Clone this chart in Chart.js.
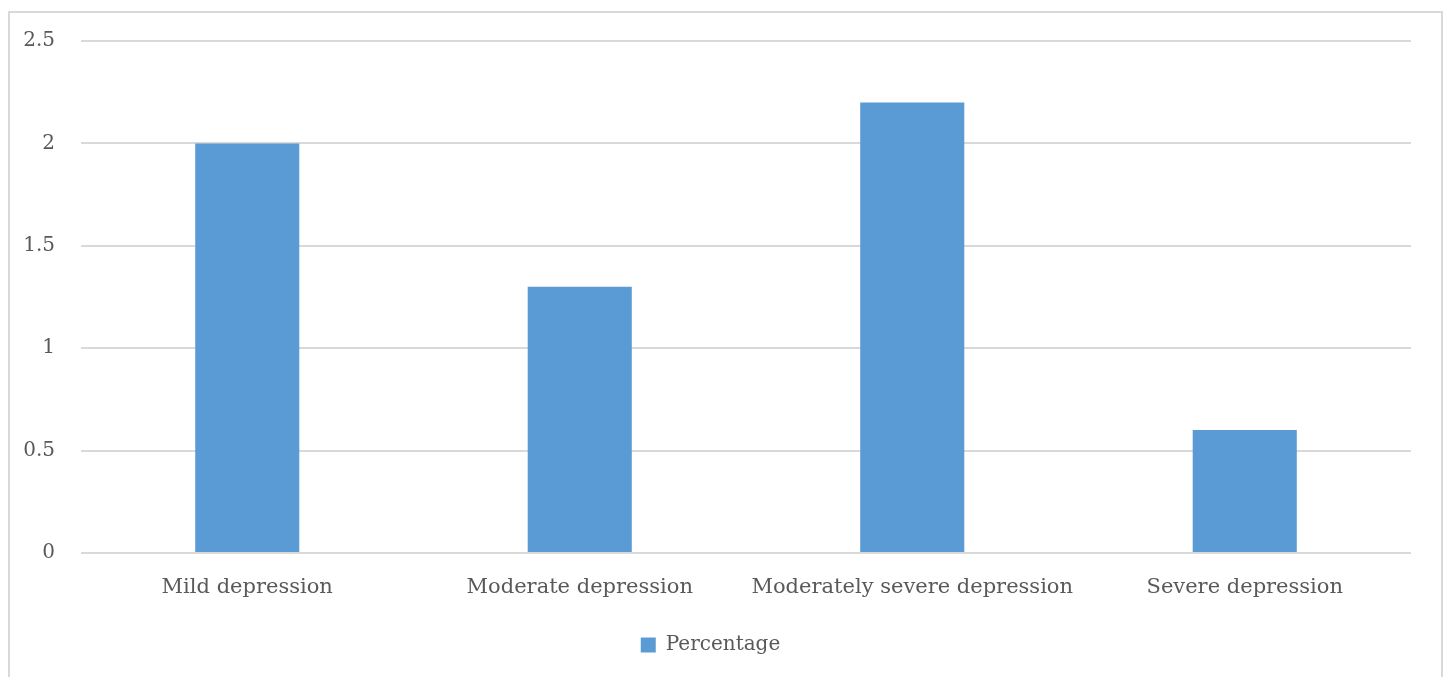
<!DOCTYPE html>
<html>
<head>
<meta charset="utf-8">
<script src="https://cdn.jsdelivr.net/npm/chart.js@4.4.0/dist/chart.umd.min.js"></script>
<style>
  html, body { margin: 0; padding: 0; background: #fff; overflow: hidden; }
  #frame {
    position: absolute; left: 8px; top: 11px;
    width: 1431px; height: 700px;
    border: 2px solid #d9d9d9;
  }
  #chart { position: absolute; left: 0; top: 0; }
</style>
</head>
<body>
<div id="frame"></div>
<canvas id="chart" width="1445" height="677"></canvas>
<script>
// Chart data
const categories = ["Mild depression", "Moderate depression", "Moderately severe depression", "Severe depression"];
const percentage = [2, 1.3, 2.2, 0.6];
const seriesName = "Percentage";

const textColor = "#595959";
const gridColor = "#d9d9d9";
const barColor = "#5b9bd5";
const fontFamily = "'DejaVu Serif', 'Liberation Serif', serif";

const ctx = document.getElementById("chart").getContext("2d");

new Chart(ctx, {
  type: 'bar',
  data: {
    labels: categories,
    datasets: [{
      label: seriesName,
      data: percentage,
      backgroundColor: barColor,
      borderWidth: 0,
      categoryPercentage: 1,
      barPercentage: 0.313
    }]
  },
  options: {
    responsive: false,
    animation: false,
    devicePixelRatio: 1,
    layout: {
      padding: { left: 10, right: 34, top: 41, bottom: 12 }
    },
    plugins: {
      tooltip: { enabled: false },
      legend: {
        position: 'bottom',
        labels: {
          color: textColor,
          font: { family: fontFamily, size: 20 },
          boxWidth: 15,
          boxHeight: 15,
          padding: 10
        }
      }
    },
    scales: {
      x: {
        grid: { display: false },
        border: { display: false },
        ticks: {
          color: textColor,
          font: { family: fontFamily, size: 21 },
          padding: 14,
          maxRotation: 0,
          autoSkip: false
        },
        afterFit: (scale) => { scale.height = 72; }
      },
      y: {
        min: 0,
        max: 2.5,
        border: { display: false },
        grid: { color: gridColor, lineWidth: 2, drawTicks: false },
        ticks: {
          stepSize: 0.5,
          color: textColor,
          font: { family: fontFamily, size: 20 },
          padding: 26,
          callback: (v) => String(v)
        },
        afterFit: (scale) => { scale.width = 71; }
      }
    }
  }
});
</script>
</body>
</html>
